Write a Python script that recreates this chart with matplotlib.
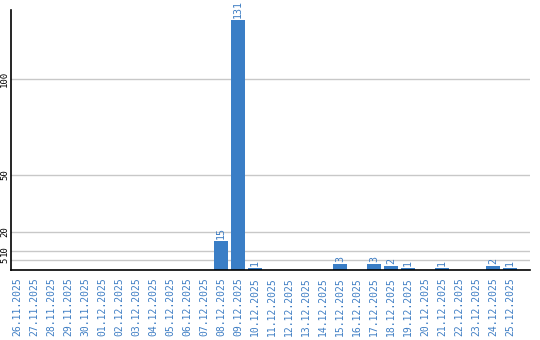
import matplotlib
matplotlib.use("Agg")
import matplotlib.pyplot as plt

dates = ["26.11.2025", "27.11.2025", "28.11.2025", "29.11.2025", "30.11.2025",
         "01.12.2025", "02.12.2025", "03.12.2025", "04.12.2025", "05.12.2025",
         "06.12.2025", "07.12.2025", "08.12.2025", "09.12.2025", "10.12.2025",
         "11.12.2025", "12.12.2025", "13.12.2025", "14.12.2025", "15.12.2025",
         "16.12.2025", "17.12.2025", "18.12.2025", "19.12.2025", "20.12.2025",
         "21.12.2025", "22.12.2025", "23.12.2025", "24.12.2025", "25.12.2025"]
values = [0, 0, 0, 0, 0, 0, 0, 0, 0, 0, 0, 0, 15, 131, 1, 0, 0, 0, 0, 3,
          0, 3, 2, 1, 0, 1, 0, 0, 2, 1]
yticks = [5, 10, 20, 50, 100]

blue = "#3a7ec6"
label_blue = "#3f7ec4"
mono = "DejaVu Sans Mono"

W, H = 540, 340
fig = plt.figure(figsize=(W / 100, H / 100), dpi=100)
ax = fig.add_axes([11 / W, 1 - 270 / H, (530 - 11) / W, (270 - 10) / H])

x = list(range(len(dates)))
ax.bar(x, values, width=0.82, color=blue, zorder=3)
for xi, v in zip(x, values):
    if v > 0:
        ax.annotate(str(v), (xi, v), xytext=(0, 1.5), textcoords="offset points",
                    rotation=90, ha="center", va="bottom", color=label_blue,
                    fontsize=7.2, family=mono)

ax.set_xlim(-0.35, 30.18)
ax.set_ylim(0, 136.2)
ax.set_yticks(yticks)
ax.set_yticklabels([str(t) for t in yticks], rotation=90, va="center",
                   fontsize=6.5, family=mono)
ax.set_xticks(x)
ax.set_xticklabels(dates, rotation=90, color=label_blue, fontsize=7, family=mono)
ax.tick_params(axis="x", length=0, pad=5)
ax.tick_params(axis="y", length=0, pad=1.5)
ax.grid(axis="y", color="#c8c8c8", linewidth=1, zorder=0)
for s in ["top", "right"]:
    ax.spines[s].set_visible(False)
ax.spines["left"].set_linewidth(1.2)
ax.spines["bottom"].set_linewidth(1.2)
ax.spines["left"].set_zorder(4)
ax.spines["bottom"].set_zorder(4)

fig.savefig("out.png", dpi=100)
